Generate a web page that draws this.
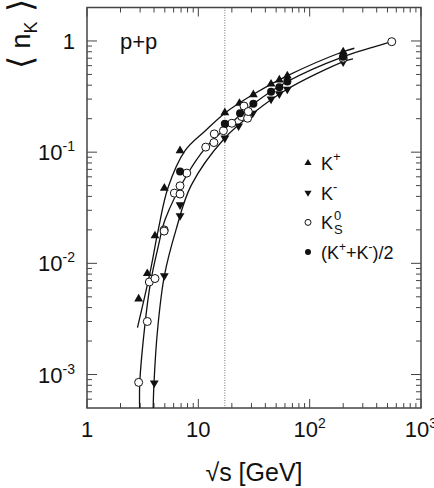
<!DOCTYPE html>
<html>
<head>
<meta charset="utf-8">
<script src="https://cdn.jsdelivr.net/npm/d3@7"></script>
<style>
  body { margin: 0; background: #fff; }
  svg { font-family: "Liberation Sans", Arial, sans-serif; }
</style>
</head>
<body>
<div id="chart"></div>
<script>
// [sqrt(s) in GeV, <n_K>]
const kPlus = [
  [2.91, 0.00478], [3.48, 0.0081], [4.08, 0.0177], [4.95, 0.0475], [6.85, 0.103],
  [17.3, 0.227], [23.4, 0.275], [31.2, 0.329], [45, 0.41], [53.4, 0.447],
  [63, 0.485], [200, 0.8], [200, 0.76],
];
const kMinus = [
  [4.02, 0.00084], [4.95, 0.00774], [6.85, 0.0336], [6.85, 0.0268], [17.3, 0.134],
  [23, 0.172], [30.8, 0.224], [45, 0.3], [53.4, 0.334], [63, 0.368], [200, 0.65],
];
const kZeroS = [
  [2.91, 0.00085], [3.48, 0.003], [3.63, 0.0068], [4.08, 0.0073], [4.93, 0.02],
  [4.93, 0.0195], [6.09, 0.0428], [6.85, 0.042], [6.85, 0.0498], [7.87, 0.0648],
  [11.65, 0.111], [13.8, 0.122], [13.9, 0.146], [16.8, 0.156], [20, 0.182],
  [24.5, 0.209], [25.7, 0.26], [27.7, 0.202], [28.1, 0.232], [200, 0.7], [546, 0.985],
];
const kAverage = [
  [6.85, 0.067], [17.3, 0.18], [23.7, 0.224], [31.2, 0.272], [45, 0.35],
  [53.4, 0.384], [63, 0.431], [200, 0.72],
];

// the three drawn curves, sampled by eye
const curveUpper = [
  [2.84, 0.00264], [3.68, 0.00824], [4.37, 0.0201], [5.34, 0.0478],
  [7.6, 0.103], [11.5, 0.155], [17.4, 0.2255], [31, 0.33], [62.6, 0.485],
  [199, 0.8], [252, 0.86],
];
const curveMiddle = [
  [2.97, 0.0005], [2.98, 0.00085], [3.3, 0.0027], [3.7, 0.0065], [4.35, 0.014],
  [5.05, 0.025], [7.87, 0.062], [11.65, 0.11], [17.1, 0.16], [31, 0.27], [62.6, 0.43],
  [199, 0.72], [546, 0.985], [590, 1.01],
];
const curveLower = [
  [3.93, 0.0005], [4.0, 0.00085], [4.3, 0.0025], [4.95, 0.0077], [6.3, 0.02],
  [8.6, 0.05], [17.3, 0.134], [31, 0.224], [62.6, 0.368], [199, 0.65], [245, 0.69],
];

const xTicks = [1, 10, 100, 1000];
const xTickLabels = [["1", ""], ["10", ""], ["10", "2"], ["10", "3"]];
const yTicks = [1, 0.1, 0.01, 0.001];
const yTickLabels = [["1", ""], ["10", "-1"], ["10", "-2"], ["10", "-3"]];
const sqrtSSps = 17.3;

const legendItems = [
  { shape: "up", label: "K", sup: "+" },
  { shape: "down", label: "K", sup: "-" },
  { shape: "open", label: "K", sup: "0", sub: "S" },
  { shape: "dot", label: "avg" },
];

function draw(id) {
  let width = 434;
  let height = 488;
  let margin = { top: 7.5, right: 13, bottom: 80, left: 87 };

  let svg = d3
    .select(id)
    .append("svg")
    .attr("width", width)
    .attr("height", height);

  let x = d3
    .scaleLog()
    .domain([1, 1000])
    .range([margin.left, width - margin.right]);
  let y = d3
    .scaleLog()
    .domain([0.0005, 2])
    .range([height - margin.bottom, margin.top]);

  let x0 = x.range()[0], x1 = x.range()[1];
  let y0 = y.range()[0], y1 = y.range()[1];

  // minor + major ticks on all four sides
  let xMinor = [];
  for (let d = 1; d < 1000; d *= 10) for (let k = 2; k <= 9; k++) xMinor.push(d * k);
  let yMinor = [];
  for (let d = 0.0001; d < 2; d *= 10) for (let k = 2; k <= 9; k++) {
    let v = d * k;
    if (v > 0.0005 && v < 2) yMinor.push(v);
  }

  let ticks = svg.append("g").attr("stroke", "#444").attr("stroke-width", 1);
  xMinor.forEach((v) => {
    ticks.append("line").attr("x1", x(v)).attr("x2", x(v)).attr("y1", y0).attr("y2", y0 - 5);
    ticks.append("line").attr("x1", x(v)).attr("x2", x(v)).attr("y1", y1).attr("y2", y1 + 5);
  });
  xTicks.forEach((v) => {
    ticks.append("line").attr("x1", x(v)).attr("x2", x(v)).attr("y1", y0).attr("y2", y0 - 9);
    ticks.append("line").attr("x1", x(v)).attr("x2", x(v)).attr("y1", y1).attr("y2", y1 + 9);
  });
  yMinor.forEach((v) => {
    ticks.append("line").attr("y1", y(v)).attr("y2", y(v)).attr("x1", x0).attr("x2", x0 + 5);
    ticks.append("line").attr("y1", y(v)).attr("y2", y(v)).attr("x1", x1).attr("x2", x1 - 5);
  });
  yTicks.forEach((v) => {
    ticks.append("line").attr("y1", y(v)).attr("y2", y(v)).attr("x1", x0).attr("x2", x0 + 10);
    ticks.append("line").attr("y1", y(v)).attr("y2", y(v)).attr("x1", x1).attr("x2", x1 - 10);
  });

  // dotted line at SPS energy
  svg
    .append("line")
    .attr("x1", x(sqrtSSps))
    .attr("x2", x(sqrtSSps))
    .attr("y1", y1)
    .attr("y2", y0)
    .attr("stroke", "#777")
    .attr("stroke-width", 1)
    .attr("stroke-dasharray", "1,1.5");

  // frame
  svg
    .append("rect")
    .attr("x", x0)
    .attr("y", y1)
    .attr("width", x1 - x0)
    .attr("height", y0 - y1)
    .attr("fill", "none")
    .attr("stroke", "#444")
    .attr("stroke-width", 1.5);

  // tick labels
  let xLab = svg.append("g").attr("font-size", 22).attr("fill", "#111");
  xTicks.forEach((v, i) => {
    let t = xLab
      .append("text")
      .attr("x", x(v))
      .attr("y", 437)
      .attr("text-anchor", "middle");
    t.append("tspan").text(xTickLabels[i][0]);
    if (xTickLabels[i][1]) {
      t.append("tspan").attr("font-size", 14).attr("dy", -9).text(xTickLabels[i][1]);
    }
  });
  yTicks.forEach((v, i) => {
    let t = xLab
      .append("text")
      .attr("x", 75)
      .attr("y", y(v) + 8)
      .attr("text-anchor", "end");
    t.append("tspan").text(yTickLabels[i][0]);
    if (yTickLabels[i][1]) {
      t.append("tspan").attr("font-size", 14).attr("dy", -9).text(yTickLabels[i][1]);
    }
  });

  // axis titles
  let xt = svg
    .append("text")
    .attr("x", 254)
    .attr("y", 481)
    .attr("text-anchor", "middle")
    .attr("font-size", 25)
    .attr("fill", "#111");
  xt.append("tspan").text("\u221As [GeV]");

  let yt = svg
    .append("text")
    .attr("transform", "translate(30,34) rotate(-90)")
    .attr("text-anchor", "middle")
    .attr("font-size", 27)
    .attr("fill", "#111");
  yt.append("tspan").attr("font-size", 34).attr("dy", 2).text("\u27E8");
  yt.append("tspan").attr("dy", -2).text(" n");
  yt.append("tspan").attr("font-size", 18).attr("dy", 7).text("K");
  yt.append("tspan").attr("font-size", 34).attr("dy", -5).text(" \u27E9");

  svg
    .append("text")
    .attr("x", 120)
    .attr("y", 49)
    .attr("font-size", 22)
    .attr("fill", "#111")
    .text("p+p");

  // curves
  let line = d3
    .line()
    .x((d) => x(d[0]))
    .y((d) => y(d[1]))
    .curve(d3.curveCatmullRom.alpha(0.5));

  svg
    .append("g")
    .selectAll("path")
    .data([curveUpper, curveMiddle, curveLower])
    .enter()
    .append("path")
    .attr("d", line)
    .attr("fill", "none")
    .attr("stroke", "#111")
    .attr("stroke-width", 1.3);

  // markers
  let tri = d3.symbol().type(d3.symbolTriangle).size(34);
  let marks = svg.append("g");

  marks
    .selectAll(".kp")
    .data(kPlus)
    .enter()
    .append("path")
    .attr("d", tri)
    .attr("transform", (d) => `translate(${x(d[0])},${y(d[1])})`)
    .attr("fill", "#111");

  marks
    .selectAll(".km")
    .data(kMinus)
    .enter()
    .append("path")
    .attr("d", tri)
    .attr("transform", (d) => `translate(${x(d[0])},${y(d[1])}) rotate(180)`)
    .attr("fill", "#111");

  marks
    .selectAll(".k0")
    .data(kZeroS)
    .enter()
    .append("circle")
    .attr("cx", (d) => x(d[0]))
    .attr("cy", (d) => y(d[1]))
    .attr("r", 4)
    .attr("fill", "#fff")
    .attr("stroke", "#111")
    .attr("stroke-width", 1);

  marks
    .selectAll(".ka")
    .data(kAverage)
    .enter()
    .append("circle")
    .attr("cx", (d) => x(d[0]))
    .attr("cy", (d) => y(d[1]))
    .attr("r", 4)
    .attr("fill", "#111");

  // legend
  let lg = svg.append("g").attr("font-size", 18).attr("fill", "#111");
  let smallTri = d3.symbol().type(d3.symbolTriangle).size(22);
  legendItems.forEach((item, i) => {
    let cy = 163 + i * 29.7;
    if (item.shape === "up") {
      lg.append("path").attr("d", smallTri).attr("transform", `translate(308,${cy})`);
    } else if (item.shape === "down") {
      lg.append("path").attr("d", smallTri).attr("transform", `translate(308,${cy}) rotate(180)`);
    } else if (item.shape === "open") {
      lg.append("circle").attr("cx", 308).attr("cy", cy).attr("r", 3)
        .attr("fill", "#fff").attr("stroke", "#111");
    } else {
      lg.append("circle").attr("cx", 308).attr("cy", cy).attr("r", 3);
    }
    let t = lg.append("text").attr("x", 321).attr("y", cy + 7);
    if (item.shape === "dot") {
      t.append("tspan").text("(K");
      t.append("tspan").attr("font-size", 12).attr("dy", -8).text("+");
      t.append("tspan").attr("dy", 8).text("+K");
      t.append("tspan").attr("font-size", 12).attr("dy", -8).text("-");
      t.append("tspan").attr("dy", 8).text(")/2");
    } else {
      t.append("tspan").text(item.label);
      if (item.sub) {
        let sx = 321 + 13;
        t.append("tspan").attr("font-size", 13).attr("x", sx).attr("dy", -9).text(item.sup);
        t.append("tspan").attr("font-size", 13).attr("x", sx).attr("dy", 14).text(item.sub);
      } else {
        t.append("tspan").attr("font-size", 13).attr("dy", -9).text(item.sup);
      }
    }
  });
}

draw("#chart");
</script>
</body>
</html>
